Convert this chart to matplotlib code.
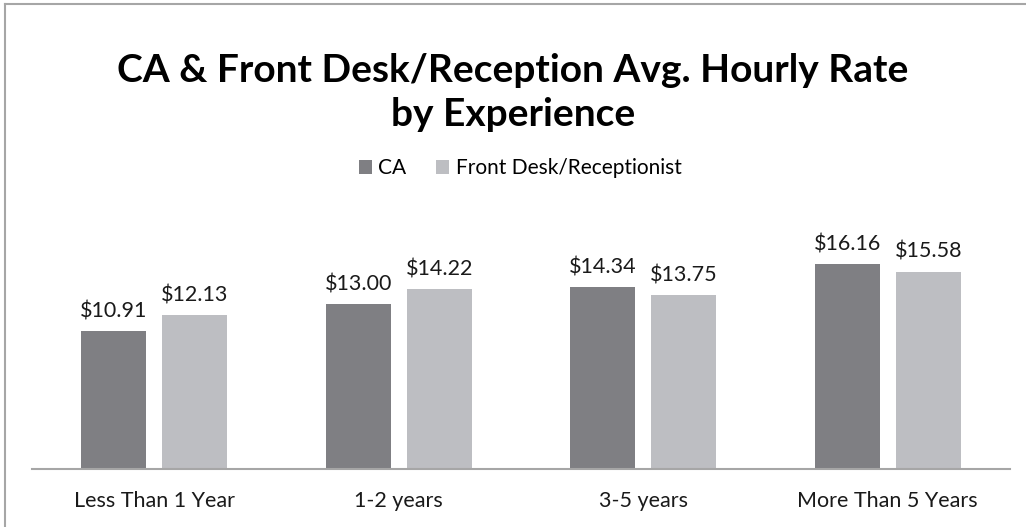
import numpy as np
import matplotlib.pyplot as plt
from matplotlib.lines import Line2D

categories = ['Less Than 1 Year', '1-2 years', '3-5 years', 'More Than 5 Years']
ca_rates = [10.91, 13.00, 14.34, 16.16]
front_desk_rates = [12.13, 14.22, 13.75, 15.58]
series_names = ['CA', 'Front Desk/Receptionist']

plt.rcParams['font.family'] = ['Lato', 'DejaVu Sans']

W, H = 1026, 527
fig = plt.figure(figsize=(W / 100, H / 100), dpi=100)

# plot area in pixel terms
left, right, base, top = 32, 1010, 469, 241
ax = fig.add_axes([left / W, (H - base) / H, (right - left) / W, (base - top) / H])

x = np.arange(len(categories))
width = 0.266
off = 0.1656
dark = '#7f7f83'
light = '#bdbec2'

b1 = ax.bar(x - off, ca_rates, width, color=dark, label=series_names[0])
b2 = ax.bar(x + off, front_desk_rates, width, color=light, label=series_names[1])

for bars in (b1, b2):
    for bar in bars:
        h = bar.get_height()
        ax.annotate(f'${h:.2f}', (bar.get_x() + bar.get_width() / 2, h),
                    xytext=(0, 7), textcoords='offset points',
                    ha='center', va='bottom', fontsize=15.5, color='#1a1a1a')

ax.set_xlim(-0.5, len(categories) - 0.5)
ax.set_ylim(0, 18)
ax.set_xticks(x)
ax.set_xticklabels(categories, fontsize=15.5, color='#1a1a1a')
ax.tick_params(axis='x', length=0, pad=16)
ax.set_yticks([])
for s in ['top', 'right', 'left']:
    ax.spines[s].set_visible(False)
ax.spines['bottom'].set_color('#a6a6a6')
ax.spines['bottom'].set_linewidth(1.5)

fig.text(0.5, 1 - 70 / H, 'CA & Front Desk/Reception Avg. Hourly Rate',
         ha='center', va='center', fontsize=28, fontweight='bold', color='#000000')
fig.text(0.5, 1 - 114 / H, 'by Experience',
         ha='center', va='center', fontsize=28, fontweight='bold', color='#000000')

fig.legend(loc='center', bbox_to_anchor=(520 / W, 1 - 168 / H), ncol=2,
           frameon=False, fontsize=15, handlelength=0.65, handleheight=0.65,
           handletextpad=0.3, columnspacing=1.4)

# outer chart border (top and left edges visible)
fig.add_artist(Line2D([5 / W, 5 / W], [0, 1 - 4 / H], transform=fig.transFigure,
                      color='#a6a6a6', lw=1.5))
fig.add_artist(Line2D([5 / W, 1], [1 - 4 / H, 1 - 4 / H], transform=fig.transFigure,
                      color='#a6a6a6', lw=1.5))

plt.savefig('out.png', dpi=100)
